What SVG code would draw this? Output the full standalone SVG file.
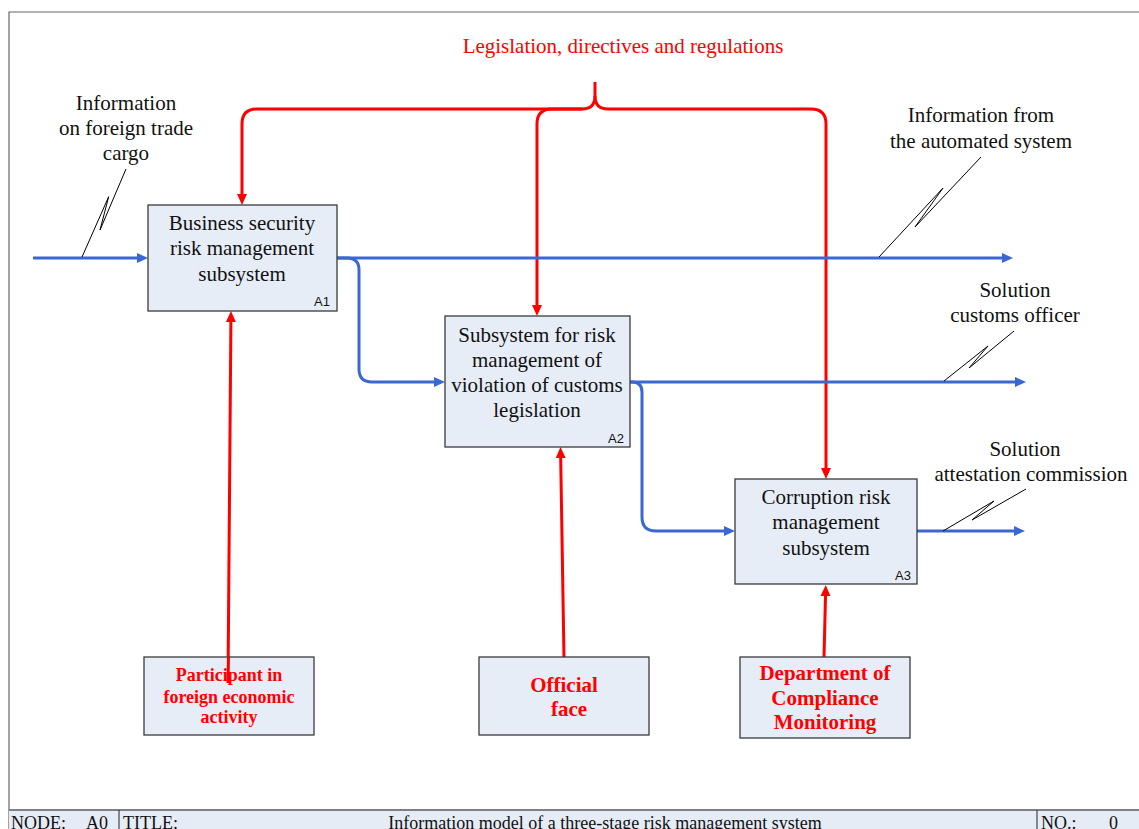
<svg xmlns="http://www.w3.org/2000/svg" width="1139" height="829" viewBox="0 0 1139 829">
<style>
.frame{fill:none;stroke:#666;stroke-width:1.2}
.box{fill:#e7edf7;stroke:#3a3a3a;stroke-width:1.3}
.t{font-family:"Liberation Serif","Times New Roman",serif;font-size:21px;fill:#111;text-anchor:middle}
.lbl{font-family:"Liberation Sans",Arial,sans-serif;font-size:13px;fill:#111;text-anchor:end}
.rb{font-family:"Liberation Serif","Times New Roman",serif;font-weight:bold;fill:#ff0000;text-anchor:middle}
.red{fill:none;stroke:#ff0000;stroke-width:3}
.blue{fill:none;stroke:#3a67d2;stroke-width:3}
.sq{fill:none;stroke:#000;stroke-width:1}
.ft{font-family:"Liberation Serif","Times New Roman",serif;font-size:18px;fill:#111}
</style>
<defs>
<marker id="ar" markerUnits="userSpaceOnUse" markerWidth="12" markerHeight="12" viewBox="0 -6 12 12" refX="0" refY="0" orient="auto">
<path d="M0,-5 L11,0 L0,5 Z" fill="#ff0000"/>
</marker>
<marker id="ab" markerUnits="userSpaceOnUse" markerWidth="12" markerHeight="12" viewBox="0 -6 12 12" refX="0" refY="0" orient="auto">
<path d="M0,-5 L11,0 L0,5 Z" fill="#3a67d2"/>
</marker>
</defs>
<rect x="0" y="0" width="1139" height="829" fill="#fff"/>
<g id="frame">
<path class="frame" d="M9,829 L9,12 L1139,12"/>
<rect x="9" y="810" width="1135" height="25" fill="#e6ecf6"/>
<line x1="9" y1="810" x2="1139" y2="810" stroke="#808080" stroke-width="2"/>
<line x1="119" y1="810" x2="119" y2="829" stroke="#222" stroke-width="1"/>
<line x1="1037" y1="810" x2="1037" y2="829" stroke="#222" stroke-width="1"/>
<text class="ft" x="11" y="829">NODE:</text>
<text class="ft" x="86" y="829">A0</text>
<text class="ft" x="123" y="829">TITLE:</text>
<text class="ft" x="605" y="829" text-anchor="middle">Information model of a three-stage risk management system</text>
<text class="ft" x="1041" y="829">NO.:</text>
<text class="ft" x="1109" y="829">0</text>
</g>
<g id="connectors">
<path class="red" d="M595,82 L595,96 Q595,109 582,109 L257,109 Q242,109 242,124 L242,194" marker-end="url(#ar)"/>
<path class="red" d="M595,96 Q595,109 608,109 L811,109 Q826,109 826,124 L826,468" marker-end="url(#ar)"/>
<path class="red" d="M582,109 L552,109 Q537,109 537,124 L537,305" marker-end="url(#ar)"/>
<path class="red" d="M228,683 L230.9,322" marker-end="url(#ar)"/>
<path class="red" d="M564,658 L560.7,458" marker-end="url(#ar)"/>
<path class="red" d="M824,658 L825.5,596" marker-end="url(#ar)"/>
<path class="blue" d="M33,258 L137,258" marker-end="url(#ab)"/>
<path class="blue" d="M337,258 L1002,258" marker-end="url(#ab)"/>
<path class="blue" d="M337,258 L347,258 Q359,258 359,270 L359,369 Q359,382 372,382 L434,382" marker-end="url(#ab)"/>
<path class="blue" d="M630,382 L1015,382" marker-end="url(#ab)"/>
<path class="blue" d="M630,382 L632,382 Q642,382 642,392 L642,517 Q642,531 656,531 L724,531" marker-end="url(#ab)"/>
<path class="blue" d="M917,531 L1014,531" marker-end="url(#ab)"/>
<path class="sq" d="M126,169 L100,230 L108.7,196.7 L82,257"/>
<path class="sq" d="M981,157 L915,227 L943,188 L879,257"/>
<path class="sq" d="M1014,331 L969,368 L988,346 L944,381"/>
<path class="sq" d="M1026,489 L972,520 L994,501 L943,531"/>
</g>
<g id="labels">
<text class="t" x="623" y="53" style="fill:#ff0000">Legislation, directives and regulations</text>
<text class="t" x="126" y="110">Information</text>
<text class="t" x="126" y="135">on foreign trade</text>
<text class="t" x="126" y="160">cargo</text>
<text class="t" x="981" y="122">Information from</text>
<text class="t" x="981" y="148">the automated system</text>
<text class="t" x="1015" y="297">Solution</text>
<text class="t" x="1015" y="322">customs officer</text>
<text class="t" x="1025" y="456">Solution</text>
<text class="t" x="1031" y="481">attestation commission</text>
</g>
<g id="A1">
<rect class="box" x="148" y="205" width="189" height="106"/>
<text class="t" x="242" y="230">Business security</text>
<text class="t" x="242" y="255">risk management</text>
<text class="t" x="242" y="281">subsystem</text>
<text class="lbl" x="330" y="306">A1</text>
</g>
<g id="A2">
<rect class="box" x="445" y="316" width="185" height="131"/>
<text class="t" x="537" y="342">Subsystem for risk</text>
<text class="t" x="537" y="367">management of</text>
<text class="t" x="537" y="392">violation of customs</text>
<text class="t" x="537" y="417">legislation</text>
<text class="lbl" x="624" y="443">A2</text>
</g>
<g id="A3">
<rect class="box" x="735" y="479" width="182" height="105"/>
<text class="t" x="826" y="504">Corruption risk</text>
<text class="t" x="826" y="529">management</text>
<text class="t" x="826" y="555">subsystem</text>
<text class="lbl" x="911" y="580">A3</text>
</g>
<g id="M1">
<rect class="box" x="144" y="657" width="170" height="78"/>
<text class="rb" font-size="18" x="229" y="681">Participant in</text>
<text class="rb" font-size="18" x="229" y="703">foreign economic</text>
<text class="rb" font-size="18" x="229" y="723">activity</text>
</g>
<path class="red" d="M228,683 L228.5,657"/>
<g id="M2">
<rect class="box" x="479" y="657" width="170" height="78"/>
<text class="rb" font-size="21" x="564" y="692">Official</text>
<text class="rb" font-size="21" x="569" y="716">face</text>
</g>
<g id="M3">
<rect class="box" x="740" y="657" width="170" height="81"/>
<text class="rb" font-size="21" x="825" y="680">Department of</text>
<text class="rb" font-size="21" x="825" y="705">Compliance</text>
<text class="rb" font-size="21" x="825" y="729">Monitoring</text>
</g>
</svg>
